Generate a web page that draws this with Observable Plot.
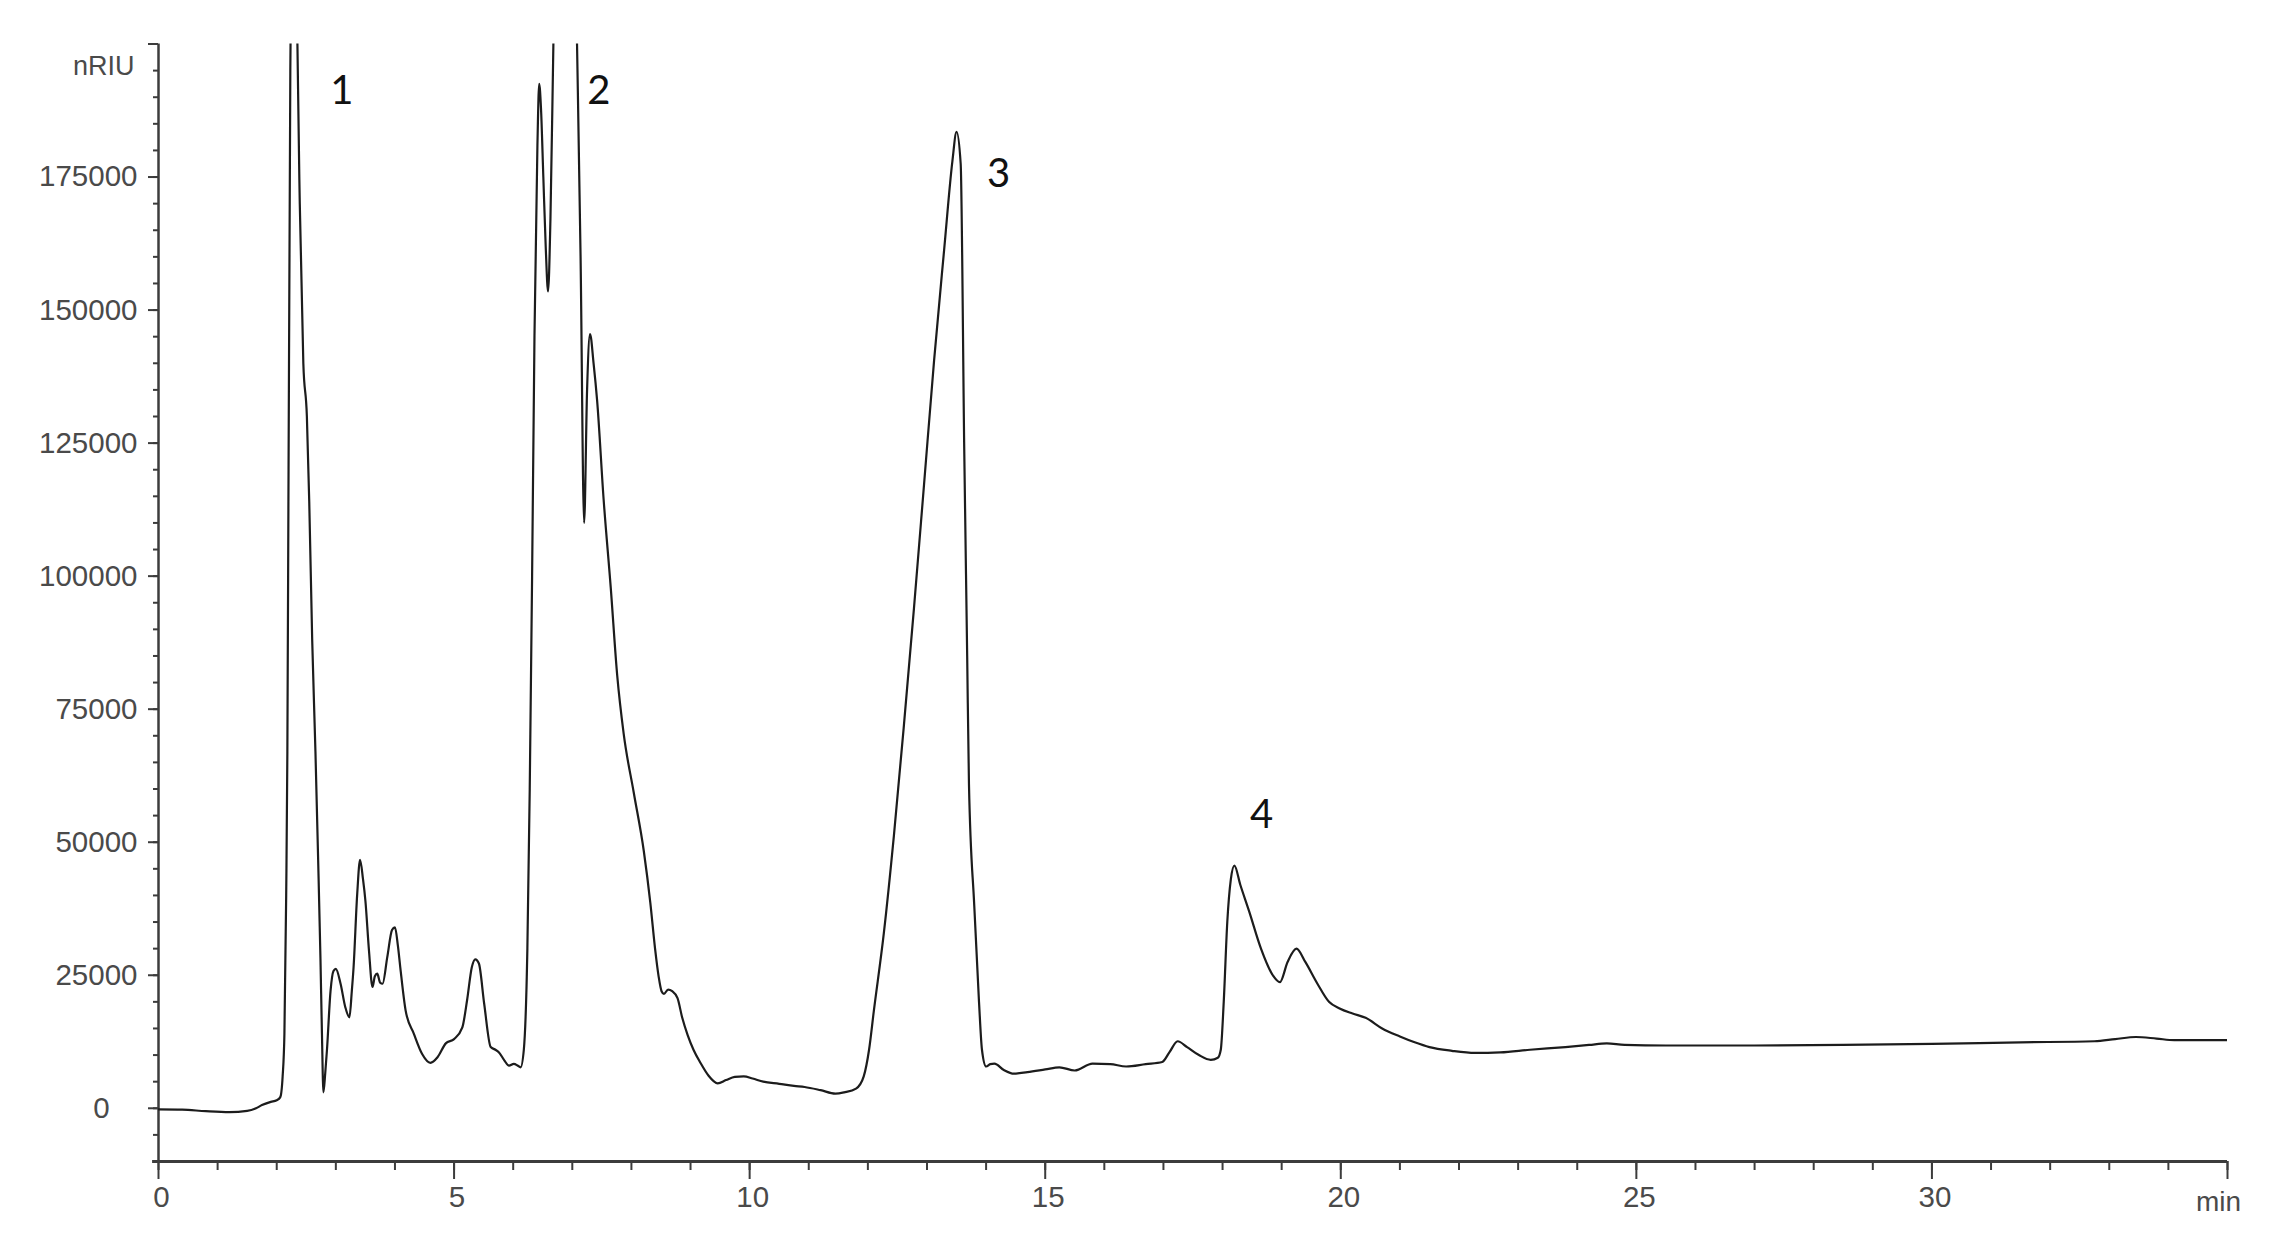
<!DOCTYPE html>
<html>
<head>
<meta charset="utf-8">
<script src="https://cdn.jsdelivr.net/npm/d3@7"></script>
<script src="https://cdn.jsdelivr.net/npm/@observablehq/plot@0.6"></script>
<style>
  html, body { margin: 0; padding: 0; background: #ffffff; overflow: hidden; }
  #chart svg { display: block; }
</style>
</head>
<body>
<div id="chart"></div>
<script>
// Retention time (min)
const times = [
  0.0, 0.4, 0.8, 1.2, 1.5, 1.65, 1.75, 1.9, 2.0, 2.06,
  2.10, 2.13, 2.16, 2.18, 2.20, 2.23, 2.27, 2.31, 2.35, 2.39,
  2.45, 2.51, 2.55, 2.60, 2.655, 2.70, 2.74, 2.765, 2.79, 2.82,
  2.85, 2.91, 2.96, 3.0, 3.08, 3.16, 3.23, 3.27, 3.30, 3.36,
  3.41, 3.46, 3.50, 3.56, 3.62, 3.66, 3.70, 3.75, 3.79, 3.87,
  3.95, 4.0, 4.05, 4.09, 4.18, 4.32, 4.46, 4.60, 4.72, 4.86,
  5.0, 5.14, 5.22, 5.30, 5.36, 5.42, 5.51, 5.62, 5.70, 5.76,
  5.85, 5.93, 6.01, 6.08, 6.125, 6.18, 6.24, 6.28, 6.32, 6.36,
  6.41, 6.44, 6.47, 6.51, 6.55, 6.59, 6.63, 6.68, 6.76, 6.88,
  7.0, 7.08, 7.14, 7.20, 7.25, 7.30, 7.36, 7.42, 7.53, 7.65,
  7.76, 7.87, 8.04, 8.21, 8.32, 8.40, 8.46, 8.51, 8.55, 8.62,
  8.69, 8.78, 8.86, 8.95, 9.05, 9.17, 9.30, 9.46, 9.60, 9.75,
  9.90, 10.05, 10.23, 10.5, 10.75, 10.93, 11.2, 11.45, 11.6, 11.8,
  11.93, 12.02, 12.10, 12.27, 12.44, 12.61, 12.78, 12.95, 13.12, 13.29,
  13.43, 13.50, 13.57, 13.63, 13.68, 13.71, 13.80, 13.88, 13.93, 14.0,
  14.07, 14.14, 14.3, 14.47, 14.7, 15.0, 15.24, 15.5, 15.8, 16.1,
  16.37, 16.7, 16.98, 17.1, 17.24, 17.4, 17.6, 17.8, 17.92, 17.97,
  18.02, 18.08, 18.14, 18.20, 18.3, 18.45, 18.65, 18.85, 18.97, 19.1,
  19.25, 19.4, 19.6, 19.8, 19.98, 20.2, 20.42, 20.7, 21.0, 21.25,
  21.5, 21.88, 22.27, 22.7, 23.2, 23.8, 24.2, 24.5, 24.8, 25.5,
  27.0, 28.5, 30.0, 31.5, 32.75, 33.1, 33.45, 33.8, 34.1, 35.0
];
// Refractive index signal (nRIU)
const signal = [
  -200, -250, -550, -730, -500, 0, 600, 1200, 1500, 2100,
  6000, 14000, 40000, 67000, 120000, 195000, 250000, 255000, 200000, 170000,
  140000, 130000, 114000, 88000, 67000, 47000, 28000, 14000, 3000, 6500,
  11000, 22000, 25800, 26200, 23400, 19000, 17100, 22000, 26500, 40000,
  46700, 43000, 39000, 29700, 22800, 24800, 25300, 23600, 23400, 28400,
  33500, 34000, 30500, 26500, 18400, 14000, 10200, 8550, 9600, 12200,
  13000, 15200, 20300, 26500, 28000, 27200, 19600, 11500, 11000, 10500,
  9000, 8000, 8360, 8000, 7700, 11000, 30000, 60000, 100000, 145000,
  181000, 192500, 188000, 175000, 162000, 153500, 167000, 200000, 245000, 265000,
  250000, 200000, 160000, 110000, 135000, 145500, 140000, 133000, 114400, 97900,
  81300, 70300, 59300, 48300, 38600, 30000, 24800, 22000, 21500, 22300,
  22000, 20700, 17000, 13800, 11000, 8500, 6200, 4700, 5300, 5900,
  6000, 5600, 5000, 4600, 4200, 4000, 3400, 2750, 3000, 3700,
  6000, 11000, 18200, 32900, 51200, 72000, 94000, 117200, 140500, 161300,
  178000, 183500, 177500, 124000, 85000, 61000, 38000, 20000, 11000, 7850,
  8300, 8400, 7200, 6500, 6800, 7300, 7700, 7100, 8400, 8300,
  7850, 8300, 8700, 10500, 12600, 11500, 10000, 9100, 9500, 11000,
  20000, 35000, 43000, 45600, 42000, 37000, 30000, 25000, 23700, 27500,
  30000, 27500, 23500, 20000, 18750, 17800, 17000, 15000, 13500, 12400,
  11500, 10800, 10400, 10500, 11000, 11500, 11900, 12200, 11900, 11800,
  11800, 11900, 12100, 12400, 12600, 13000, 13400, 13100, 12800, 12800
];

// Peak annotations
const peakLabels = ["1", "2", "3", "4"];
const peakLabelTimes = [3.10, 7.45, 14.21, 18.66];
const peakLabelSignals = [191200, 191200, 175500, 55000];

// Axis ticks
const xMajorTicks = [0, 5, 10, 15, 20, 25, 30, 35];
const xTickLabels = [0, 5, 10, 15, 20, 25, 30];
const xMinorTicks = d3.range(0, 36, 1);
const yMajorTicks = [0, 25000, 50000, 75000, 100000, 125000, 150000, 175000, 200000];
const yTickLabels = [25000, 50000, 75000, 100000, 125000, 150000, 175000];
const yMinorTicks = d3.range(-10000, 200001, 5000);

const trace = times.map((t, i) => ({t, v: signal[i]}));
const peaks = peakLabels.map((p, i) => ({p, t: peakLabelTimes[i], v: peakLabelSignals[i]}));

const axisColor = "#3c3c3c";
const labelColor = "#4a4a4a";
const numFont = "'Liberation Sans', Arial, sans-serif";

const chart = Plot.plot({
  width: 2272,
  height: 1256,
  marginLeft: 158,
  marginRight: 45,
  marginTop: 43.5,
  marginBottom: 95,
  x: {domain: [0, 35]},
  y: {domain: [-10000, 200000]},
  style: {background: "#ffffff", overflow: "visible"},
  marks: [
    // y ticks
    Plot.axisY(yMinorTicks, {tickSize: 5, stroke: axisColor, strokeWidth: 2, fill: "none", label: null}),
    Plot.axisY(yMajorTicks, {tickSize: 10, stroke: axisColor, strokeWidth: 2, fill: "none", label: null}),
    // x ticks
    Plot.axisX(xMinorTicks, {tickSize: 9, stroke: axisColor, strokeWidth: 2, fill: "none", label: null}),
    Plot.axisX(xMajorTicks, {tickSize: 18, stroke: axisColor, strokeWidth: 2, fill: "none", label: null}),
    // axis lines
    Plot.ruleX([0], {stroke: axisColor, strokeWidth: 2.5}),
    Plot.ruleY([-10000], {x1: -0.1, x2: 35, stroke: axisColor, strokeWidth: 3}),
    // y tick labels
    Plot.text(yTickLabels, {
      y: d => d, text: d => String(d), frameAnchor: "left", dx: -21,
      textAnchor: "end", lineAnchor: "middle",
      fontSize: 29.5, fontFamily: numFont, fill: labelColor
    }),
    Plot.text([0], {
      y: d => d, text: d => String(d), frameAnchor: "left", dx: -57,
      textAnchor: "middle", lineAnchor: "middle",
      fontSize: 29.5, fontFamily: numFont, fill: labelColor
    }),
    Plot.text(["nRIU"], {
      frameAnchor: "top-left", dx: -24, dy: 22,
      textAnchor: "end", lineAnchor: "middle",
      fontSize: 27, fontFamily: numFont, fill: labelColor
    }),
    // x tick labels
    Plot.text(xTickLabels, {
      x: d => d, text: d => String(d), frameAnchor: "bottom", dy: 36, dx: 3,
      textAnchor: "middle", lineAnchor: "middle",
      fontSize: 29.5, fontFamily: numFont, fill: labelColor
    }),
    Plot.text(["min"], {
      x: () => 35, frameAnchor: "bottom", dy: 41, dx: -9,
      textAnchor: "middle", lineAnchor: "middle",
      fontSize: 28, fontFamily: numFont, fill: labelColor
    }),
    // chromatogram trace
    Plot.line(trace, {
      x: "t", y: "v", stroke: "#1c1c1c", strokeWidth: 2.2,
      curve: "monotone-x", clip: true
    }),
    // peak numbers
    Plot.text(peaks, {
      x: "t", y: "v", text: "p", textAnchor: "middle", lineAnchor: "middle",
      fontSize: 40, fontFamily: "Lato, 'Open Sans', sans-serif", fill: "#111111"
    })
  ]
});

document.getElementById("chart").appendChild(chart);
</script>
</body>
</html>
